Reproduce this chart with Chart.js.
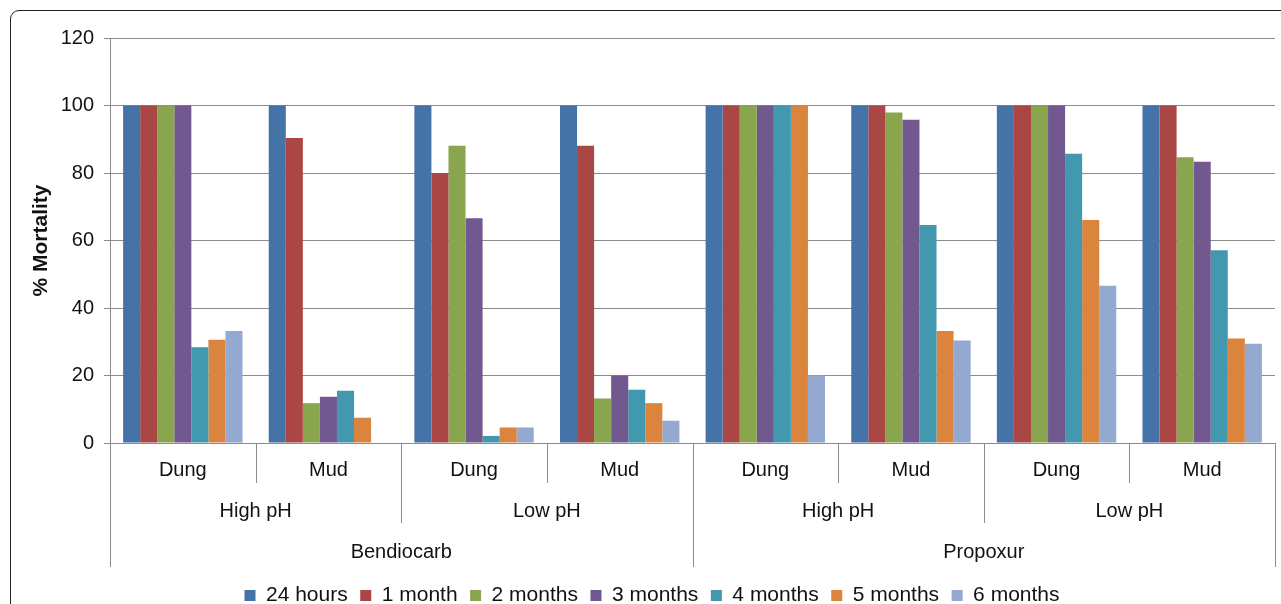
<!DOCTYPE html>
<html>
<head>
<meta charset="utf-8">
<script src="https://cdn.jsdelivr.net/npm/chart.js@4"></script>
<style>
  html, body { margin: 0; padding: 0; background: #fff; overflow: hidden; }
  #frame {
    position: absolute; left: 10px; top: 10px; width: 1400px; height: 700px;
    border: 1px solid #222; border-radius: 9px; box-sizing: border-box;
  }
  #wrap { position: absolute; left: 0; top: 0; width: 1281px; height: 604px; }
</style>
</head>
<body>
<div id="frame"></div>
<div id="wrap"><canvas id="chart" width="1281" height="604"></canvas></div>
<script>
const materials = ["Dung", "Mud", "Dung", "Mud", "Dung", "Mud", "Dung", "Mud"];
const phLevels = ["High pH", "Low pH", "High pH", "Low pH"];
const insecticides = ["Bendiocarb", "Propoxur"];
const yTicks = [0, 20, 40, 60, 80, 100, 120];

const seriesNames = ["24 hours", "1 month", "2 months", "3 months", "4 months", "5 months", "6 months"];
const hours24 = [100, 100, 100, 100, 100, 100, 100, 100];
const month1 = [100, 90.4, 80, 88.1, 100, 100, 100, 100];
const month2 = [100, 11.8, 88.1, 13.2, 100, 97.9, 100, 84.7];
const month3 = [100, 13.7, 66.6, 20, 100, 95.8, 100, 83.3];
const month4 = [28.4, 15.5, 2.1, 15.8, 100, 64.6, 85.7, 57.1];
const month5 = [30.6, 7.5, 4.6, 11.8, 100, 33.2, 66.1, 31];
const month6 = [33.2, 0, 4.6, 6.6, 20, 30.4, 46.6, 29.4];

const colors = ["#4572A7", "#AA4643", "#89A54E", "#71588F", "#4198AF", "#DB843D", "#93A9CF"];
const values = [hours24, month1, month2, month3, month4, month5, month6];

const FONT = "'Liberation Sans', Arial, sans-serif";
const GRID = "#8c8c8c";

// draws the three-level category axis under the bars
const groupAxis = {
  id: "groupAxis",
  afterDraw(chart) {
    const x = chart.scales.x;
    const ctx = chart.ctx;
    const top = chart.chartArea.bottom;
    const n = materials.length;
    const step = x.getPixelForValue(1) - x.getPixelForValue(0);
    const edge = i => x.getPixelForValue(i) - step / 2;

    ctx.save();
    ctx.strokeStyle = GRID;
    ctx.lineWidth = 1;
    for (let i = 0; i <= n; i++) {
      let depth = 40;
      if (i % (n / phLevels.length) === 0) depth = 80;
      if (i % (n / insecticides.length) === 0) depth = 124;
      const px = Math.round(edge(i)) + 0.5;
      ctx.beginPath();
      ctx.moveTo(px, top);
      ctx.lineTo(px, top + depth);
      ctx.stroke();
    }

    ctx.fillStyle = "#111";
    ctx.font = "20px " + FONT;
    ctx.textAlign = "center";
    ctx.textBaseline = "middle";
    const rows = [[materials, 27], [phLevels, 68], [insecticides, 109]];
    rows.forEach(([labels, dy]) => {
      const span = n / labels.length;
      labels.forEach((lab, j) => {
        const cx = (edge(j * span) + edge((j + 1) * span)) / 2;
        ctx.fillText(lab, cx, top + dy);
      });
    });
    ctx.restore();
  }
};

new Chart(document.getElementById("chart"), {
  type: "bar",
  data: {
    labels: materials,
    datasets: seriesNames.map((name, i) => ({
      label: name,
      data: values[i],
      backgroundColor: colors[i],
      borderWidth: 0,
      categoryPercentage: 0.82,
      barPercentage: 1.0
    }))
  },
  options: {
    responsive: false,
    animation: false,
    layout: { padding: { left: 29, right: 6, top: 38, bottom: -12 } },
    plugins: {
      tooltip: { enabled: false },
      legend: {
        position: "bottom",
        labels: {
          boxWidth: 11,
          boxHeight: 11,
          padding: 12.5,
          color: "#111",
          font: { family: FONT, size: 21 }
        }
      }
    },
    scales: {
      x: {
        ticks: { display: false },
        grid: { display: false },
        border: { display: true, color: GRID },
        afterFit: s => { s.height = 129.5; }
      },
      y: {
        min: 0,
        max: 120,
        afterBuildTicks: s => { s.ticks = yTicks.map(v => ({ value: v })); },
        afterFit: s => { s.width = 81; },
        ticks: {
          color: "#111",
          padding: 10,
          font: { family: FONT, size: 20 }
        },
        grid: { color: GRID, tickLength: 6, drawTicks: true },
        border: { display: true, color: GRID },
        title: {
          display: true,
          text: "% Mortality",
          color: "#111",
          font: { family: FONT, size: 21, weight: "bold" },
          padding: { top: 0, bottom: 0 }
        }
      }
    }
  },
  plugins: [groupAxis]
});
</script>
</body>
</html>
